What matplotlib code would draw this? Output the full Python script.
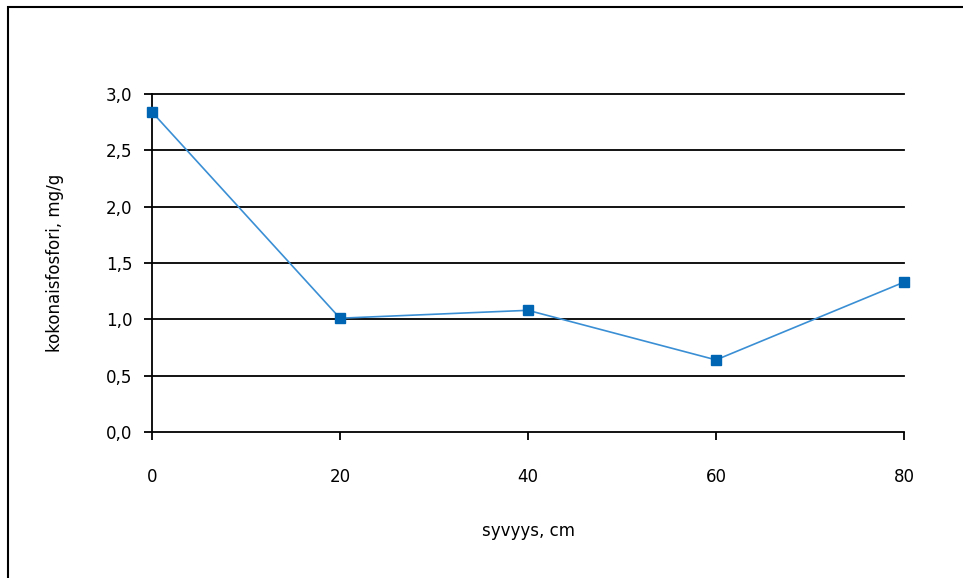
#!/usr/bin/env python3
"""Total phosphorus vs. depth profile."""

import matplotlib
matplotlib.use("Agg")
import matplotlib.pyplot as plt
from matplotlib.patches import Rectangle
from matplotlib.ticker import FuncFormatter

depth_cm = [0, 20, 40, 60, 80]
phosphorus = [2.84, 1.01, 1.08, 0.64, 1.33]
y_ticks = [0.0, 0.5, 1.0, 1.5, 2.0, 2.5, 3.0]
x_ticks = [0, 20, 40, 60, 80]

plt.rcParams["font.family"] = ["DejaVu Sans"]

fig = plt.figure(figsize=(9.63, 5.78), dpi=100)
ax = fig.add_axes([152 / 963, 1 - 432 / 578, (904 - 152) / 963, (432 - 94) / 578])

# outer chart frame, cropped at right and bottom like the source
fig.patches.append(Rectangle((8 / 963, -0.1), 2, 1.1 - 7 / 578, transform=fig.transFigure,
                             fill=False, ec="black", lw=1.5, zorder=0))

for y in y_ticks[1:]:
    ax.axhline(y, color="black", lw=1.3, zorder=1, clip_on=False)

ax.plot(depth_cm, phosphorus, color="#3a8fd4", lw=1.2, marker="s", ms=7,
        mfc="#0066b3", mec="#0066b3", zorder=3, clip_on=False)

ax.set_xlim(0, 80)
ax.set_ylim(0, 3.0)
ax.set_xticks(x_ticks)
ax.set_yticks(y_ticks)
ax.yaxis.set_major_formatter(FuncFormatter(lambda v, _: f"{v:.1f}".replace(".", ",")))
ax.tick_params(axis="both", direction="out", length=6, width=1.3, colors="black", labelsize=12)
ax.tick_params(axis="y", pad=8)
ax.tick_params(axis="x", pad=20)

for side in ("top", "right"):
    ax.spines[side].set_visible(False)
for side in ("left", "bottom"):
    ax.spines[side].set_linewidth(1.3)

ax.set_xlabel("syvyys, cm", fontsize=12, labelpad=26)
ax.set_ylabel("kokonaisfosfori, mg/g", fontsize=12, labelpad=30)

fig.savefig("out.png", dpi=100)
